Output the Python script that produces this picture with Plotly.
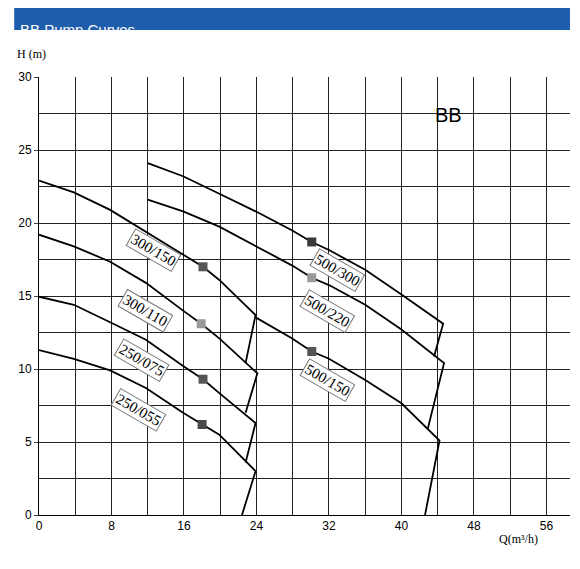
import plotly.graph_objects as go

# Curves (Q m3/h, H m); last point is the end of the steep drop line
names = ["250/055", "250/075", "300/110", "300/150", "500/150", "500/220", "500/300"]
curve_x = [
    [0, 3.84, 7.85, 11.8, 15.9, 18, 19.9, 23.9, 22.4],
    [0, 3.84, 7.85, 11.8, 15.9, 18.1, 19.9, 23.9, 22.8],
    [0, 3.84, 7.85, 11.8, 15.9, 17.9, 19.9, 24.1, 22.8],
    [0, 3.84, 7.85, 11.8, 15.9, 18.1, 19.9, 23.9, 22.8],
    [24.0, 27.9, 30.1, 32, 36, 40, 44.2, 42.6],
    [12, 15.9, 19.9, 23.9, 27.9, 30.1, 32, 36, 40, 44.7, 42.9],
    [12, 15.9, 19.9, 23.9, 27.9, 30.1, 32, 36, 40, 44.6, 43.6],
]
curve_y = [
    [11.3, 10.7, 9.9, 8.7, 7.0, 6.2, 5.5, 3.0, 0],
    [14.95, 14.4, 13.2, 12.0, 10.2, 9.3, 8.35, 6.3, 3.6],
    [19.2, 18.4, 17.35, 15.9, 14.0, 13.1, 12.1, 9.7, 7.0],
    [22.9, 22.1, 20.9, 19.4, 17.8, 17.0, 16.1, 13.7, 10.4],
    [13.5, 12.1, 11.2, 10.7, 9.25, 7.65, 5.1, 0],
    [21.6, 20.8, 19.75, 18.4, 17.1, 16.25, 15.75, 14.4, 12.7, 10.4, 5.9],
    [24.1, 23.2, 22.0, 20.8, 19.5, 18.7, 18.15, 16.8, 15.1, 13.1, 10.85],
]
marker_x = [18, 18.1, 17.9, 18.1, 30.1, 30.1, 30.1]
marker_y = [6.2, 9.3, 13.1, 17.0, 11.2, 16.25, 18.7]
marker_col = ["#4a4a4a", "#555555", "#9a9a9a", "#555555", "#555555", "#9a9a9a", "#3a3a3a"]
label_x = [11.0, 11.3, 11.8, 12.6, 31.8, 31.8, 32.9]
label_y = [7.2, 10.6, 14.0, 18.15, 9.25, 14.0, 16.8]

x_ticks = [0, 8, 16, 24, 32, 40, 48, 56]
y_ticks = [0, 5, 10, 15, 20, 25, 30]

W, H = 572, 561
L, R, T, B = 27, 10, 69, 54
PH = H - T - B
PW = W - L - R
def py(fy):  # figure pixel y -> paper y
    return (H - B - fy) / PH
def px(fx):
    return (fx - L) / PW

fig = go.Figure()
for i, n in enumerate(names):
    fig.add_trace(go.Scatter(x=curve_x[i], y=curve_y[i], mode="lines",
                             line=dict(color="black", width=1.8), hoverinfo="skip"))
fig.add_trace(go.Scatter(x=marker_x, y=marker_y, mode="markers",
                         marker=dict(symbol="square", size=9, color=marker_col)))
for i, n in enumerate(names):
    fig.add_annotation(x=label_x[i], y=label_y[i], text=n, showarrow=False, textangle=30,
                       font=dict(family="Liberation Serif", size=15, color="black"),
                       bgcolor="white", bordercolor="#777", borderwidth=1, borderpad=1)
fig.add_annotation(x=45.2, y=27.4, text="BB", showarrow=False,
                   font=dict(family="Liberation Sans", size=20, color="black"))

fig.add_shape(type="rect", xref="paper", yref="paper", x0=px(2), x1=1.0,
              y0=py(22), y1=py(0), fillcolor="#1f5dad", line=dict(width=0), layer="below")
fig.add_annotation(xref="paper", yref="paper", x=px(6), y=py(11), xanchor="left",
                   text="BB Pump Curves", showarrow=False,
                   font=dict(family="Liberation Sans", size=15, color="white"))
fig.add_annotation(xref="paper", yref="paper", x=px(3), y=py(37), xanchor="left",
                   text="H (m)", showarrow=False,
                   font=dict(family="Liberation Serif", size=12, color="black"))
fig.add_annotation(xref="paper", yref="paper", x=px(532), y=py(540),
                   text="Q(m³/h)", showarrow=False,
                   font=dict(family="Liberation Serif", size=12, color="black"))

fig.update_layout(
    width=W, height=H, margin=dict(l=L, r=R, t=T, b=B),
    plot_bgcolor="white", paper_bgcolor="white", showlegend=False,
    xaxis=dict(range=[0, 58.6], tickvals=x_ticks, showgrid=True, gridcolor="#222", gridwidth=1,
               minor=dict(dtick=4, showgrid=True, gridcolor="#222", gridwidth=1),
               zeroline=False, showline=True, linecolor="black",
               tickfont=dict(family="Liberation Sans", size=12, color="black")),
    yaxis=dict(range=[0, 30], tickvals=y_ticks, showgrid=True, gridcolor="#222", gridwidth=1,
               minor=dict(dtick=2.5, showgrid=True, gridcolor="#222", gridwidth=1),
               zeroline=False, showline=True, linecolor="black", ticks="outside", ticklen=4,
               tickfont=dict(family="Liberation Sans", size=12, color="black")),
)
fig.write_html("out.html")
